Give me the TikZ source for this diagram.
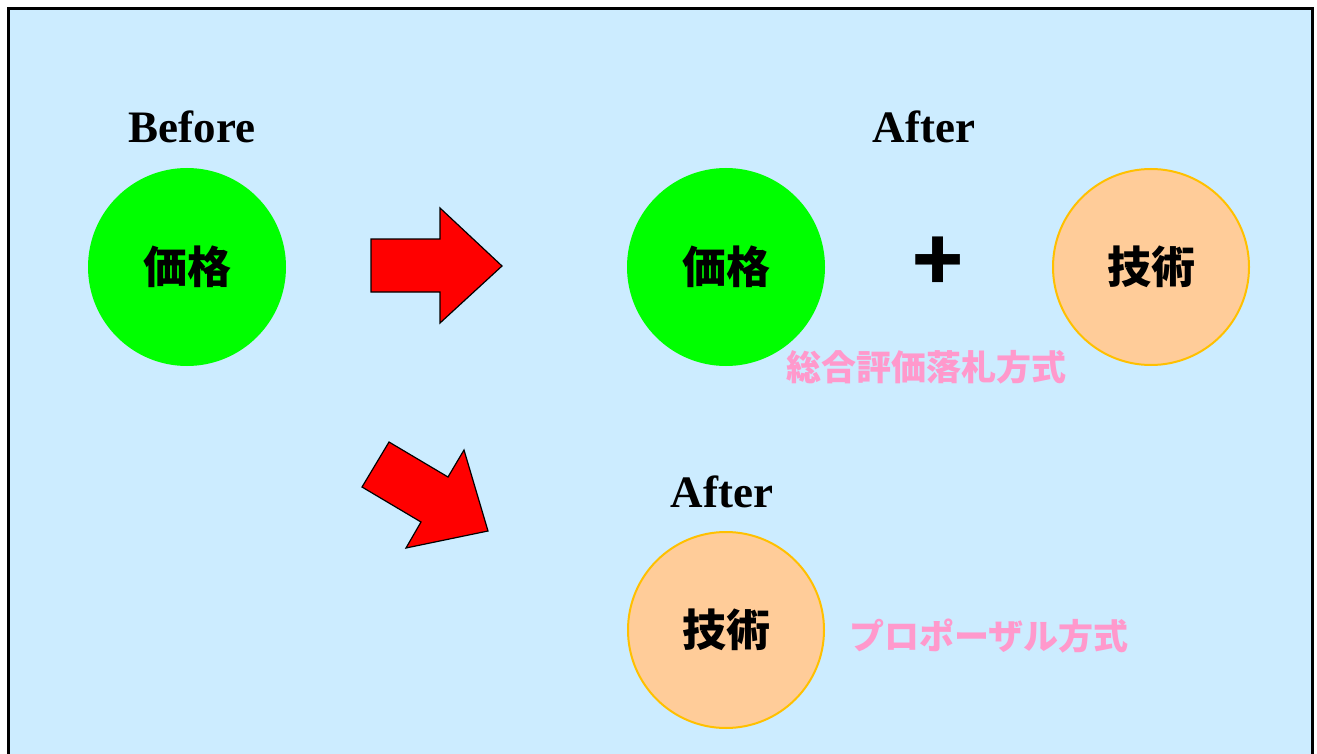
\documentclass[tikz,border=0pt]{standalone}
\usepackage{fontspec}
\setmainfont{Liberation Serif}
\newfontfamily\cjk{Noto Sans CJK JP}
\definecolor{skyback}{HTML}{CCECFF}
\definecolor{pricegreen}{HTML}{00FF00}
\definecolor{techpeach}{HTML}{FFCC99}
\definecolor{techrim}{HTML}{FFC000}
\definecolor{methodpink}{HTML}{FF99CC}

\tikzset{
    period/.style={anchor=base, font=\fontsize{45}{50}\bfseries\selectfont},
    price/.style={circle, fill=pricegreen, minimum size=198pt, inner sep=0pt,
        font=\cjk\fontsize{44}{48}\bfseries\selectfont},
    tech/.style={circle, fill=techpeach, draw=techrim, line width=2pt, minimum size=196pt, inner sep=0pt,
        font=\cjk\fontsize{44}{48}\bfseries\selectfont},
    method/.style={text=methodpink, inner sep=0pt, font=\cjk\fontsize{35}{38}\bfseries\selectfont},
    bigarrow/.style={fill=red, draw=black, line width=1.2pt, line join=miter}
}

\begin{document}
\begin{tikzpicture}[x=1pt, y=-1pt]
    \useasboundingbox (0,0) rectangle (1317,754);
    \fill[white] (0,0) rectangle (1317,754);
    \draw[fill=skyback, line width=3pt] (8,9) rectangle (1312,770);

    % before
    \node[period] (before) at (192,143) {Before};
    \node[price] (oldprice) at (187,267) {価格};

    % after: price + tech
    \node[period] (after1) at (924,143) {After};
    \node[price] (newprice) at (726,267) {価格};
    \node[font=\cjk\fontsize{84}{86}\bfseries\selectfont] (plus) at (938,264) {+};
    \node[tech] (newtech) at (1151,267) {技術};
    \node[method] (sogo) at (926,367) {総合評価落札方式};

    % after: tech only
    \node[period] (after2) at (722,507) {After};
    \node[tech] (onlytech) at (726,630) {技術};
    \node[method] (proposal) at (989,636) {プロポーザル方式};

    % arrows
    \draw[bigarrow] (371,239) -- (440,239) -- (440,208) -- (502,266) -- (440,323)
        -- (440,292) -- (371,292) -- cycle;
    \draw[bigarrow] (389,442) -- (448,477) -- (464,450) -- (488,531) -- (406,548)
        -- (421,522) -- (362,487) -- cycle;
\end{tikzpicture}
\end{document}
